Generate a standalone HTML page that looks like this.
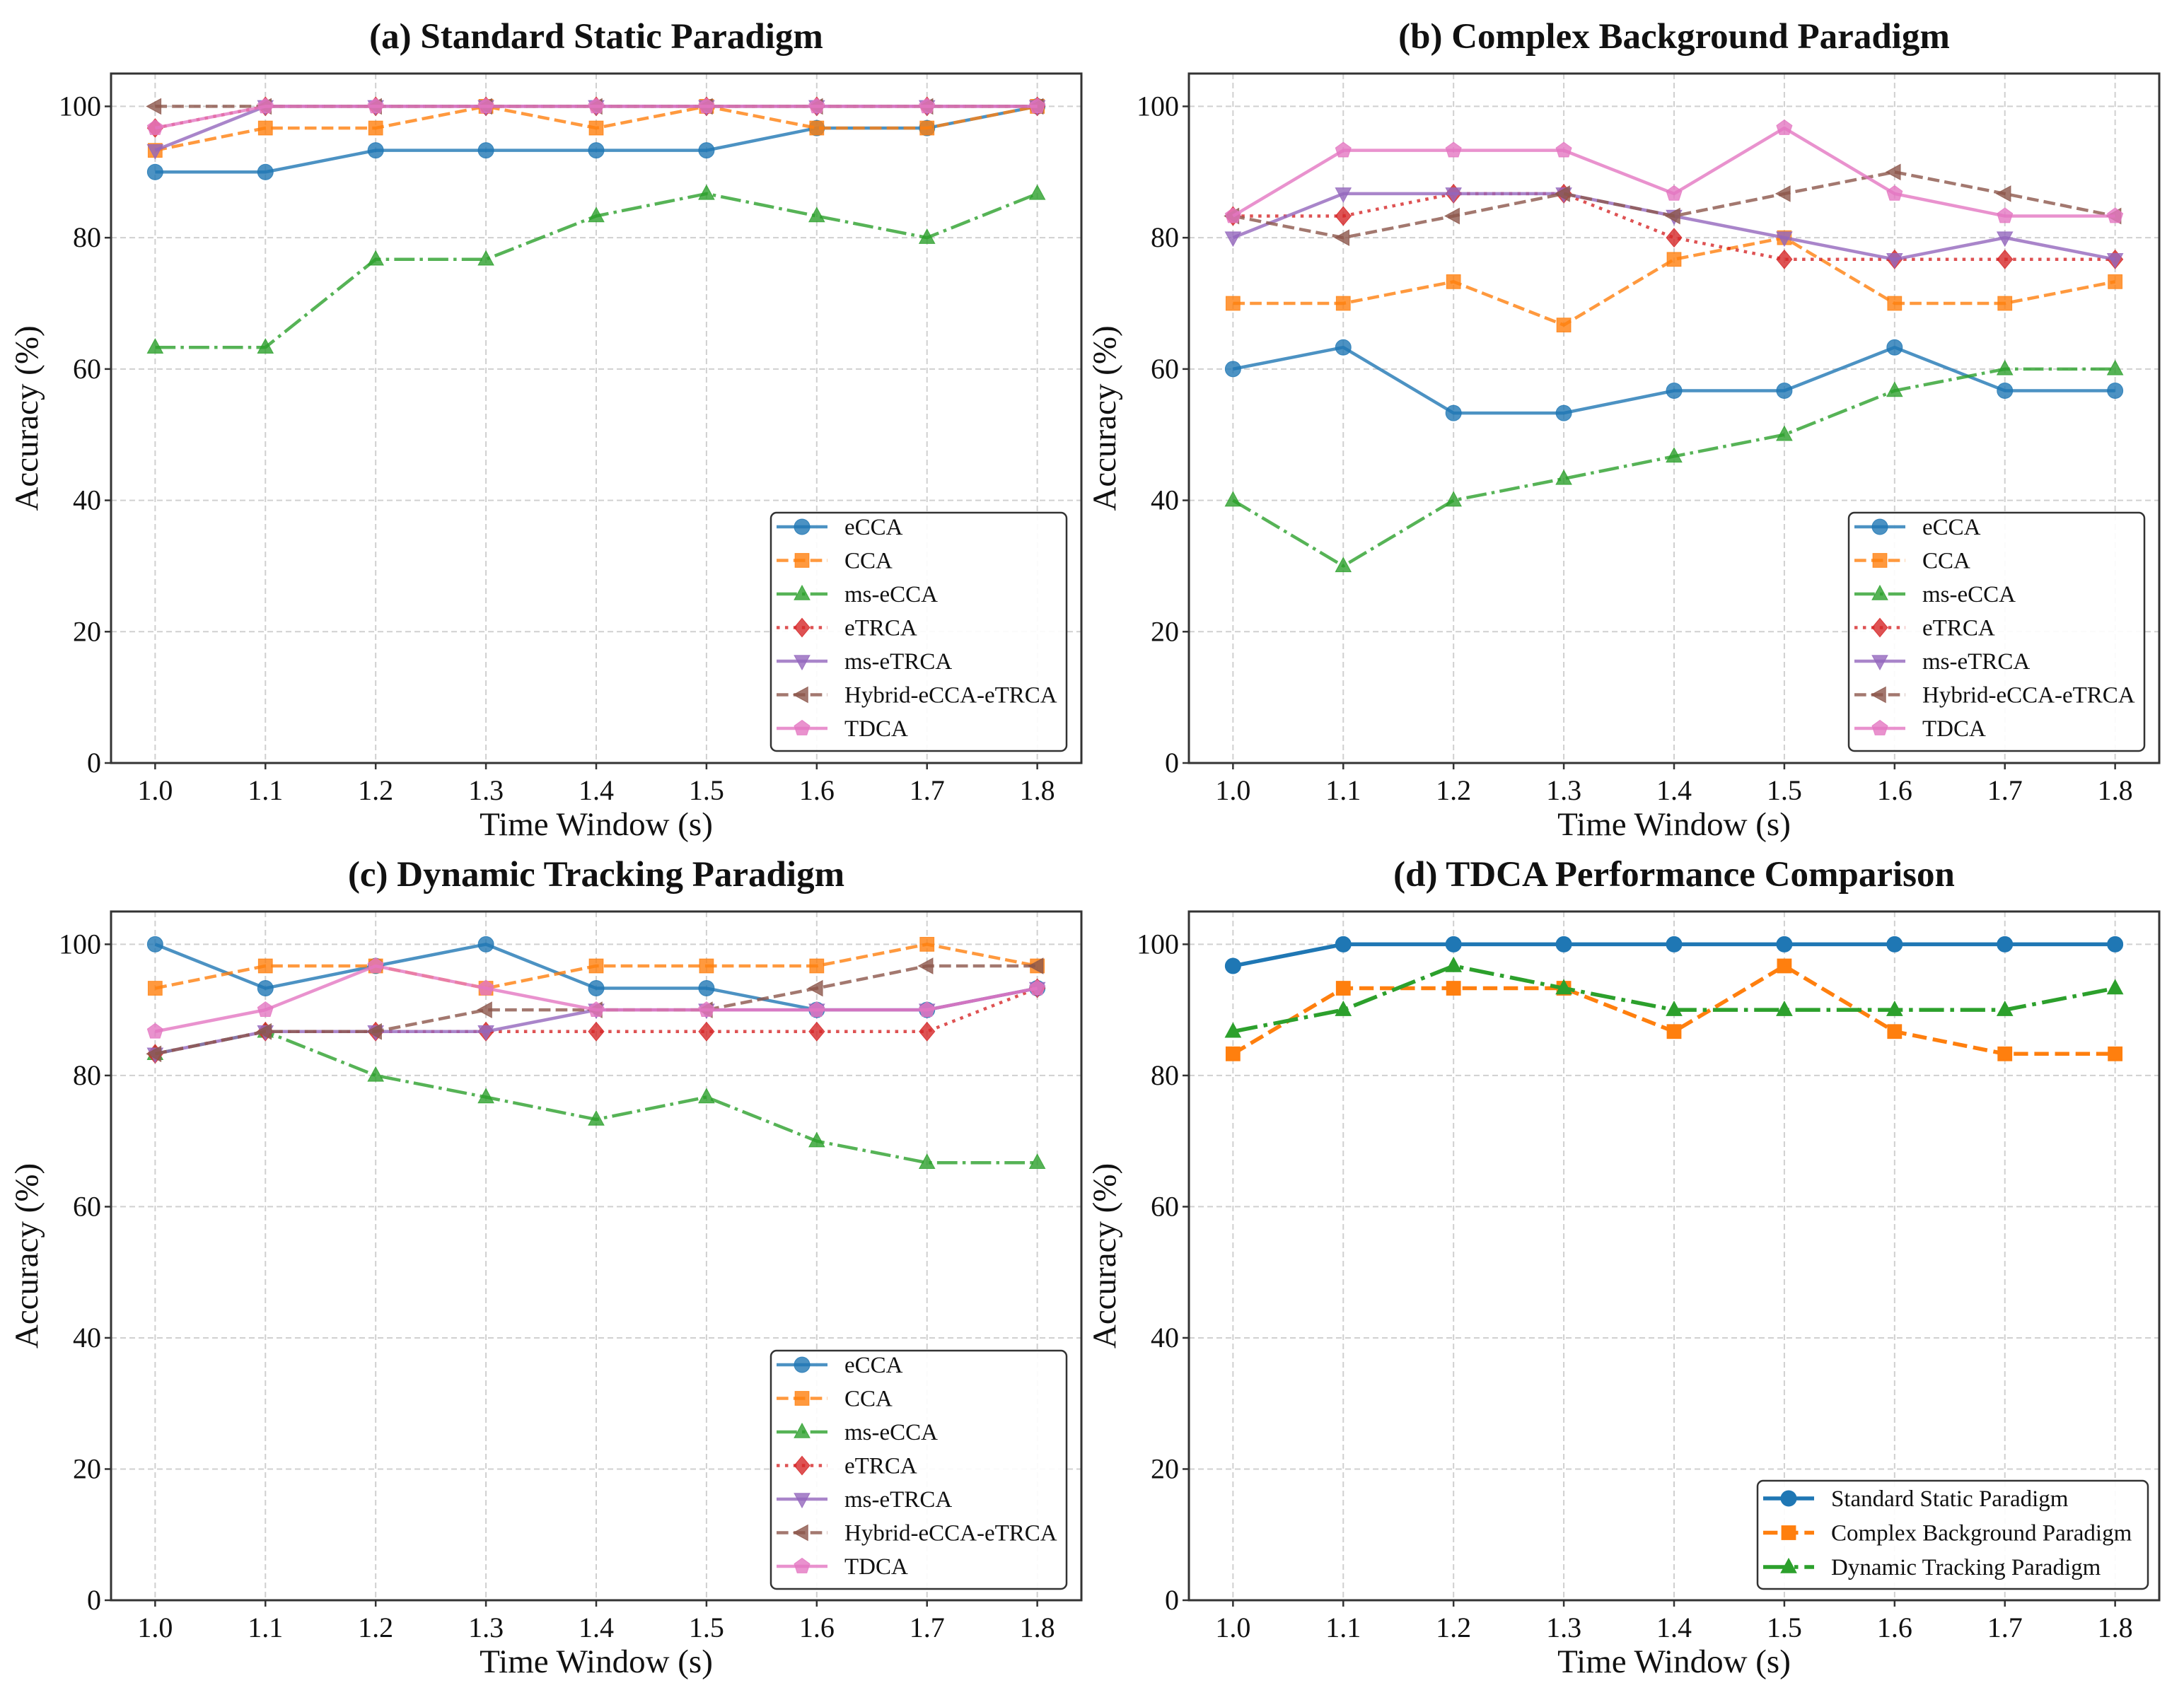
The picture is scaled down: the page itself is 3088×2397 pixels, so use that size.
<!DOCTYPE html>
<html><head><meta charset="utf-8">
<style>
html,body{margin:0;padding:0;background:#fff;}
svg{display:block;font-family:"Liberation Serif",serif;}
</style></head>
<body>
<svg id="fig" width="3088" height="2397" viewBox="0 0 3088 2397" xmlns="http://www.w3.org/2000/svg"></svg>
<script>
const xTicks = [1.0,1.1,1.2,1.3,1.4,1.5,1.6,1.7,1.8];
const yTicks = [0,20,40,60,80,100];
const methodNames = ["eCCA","CCA","ms-eCCA","eTRCA","ms-eTRCA","Hybrid-eCCA-eTRCA","TDCA"];
const paradigmNames = ["Standard Static Paradigm","Complex Background Paradigm","Dynamic Tracking Paradigm"];

const staticECCA = [90,90,93.3,93.3,93.3,93.3,96.7,96.7,100];
const staticCCA = [93.3,96.7,96.7,100,96.7,100,96.7,96.7,100];
const staticMsECCA = [63.3,63.3,76.7,76.7,83.3,86.7,83.3,80,86.7];
const staticETRCA = [96.7,100,100,100,100,100,100,100,100];
const staticMsETRCA = [93.3,100,100,100,100,100,100,100,100];
const staticHybrid = [100,100,100,100,100,100,100,100,100];
const staticTDCA = [96.7,100,100,100,100,100,100,100,100];

const complexECCA = [60,63.3,53.3,53.3,56.7,56.7,63.3,56.7,56.7];
const complexCCA = [70,70,73.3,66.7,76.7,80,70,70,73.3];
const complexMsECCA = [40,30,40,43.3,46.7,50,56.7,60,60];
const complexETRCA = [83.3,83.3,86.7,86.7,80,76.7,76.7,76.7,76.7];
const complexMsETRCA = [80,86.7,86.7,86.7,83.3,80,76.7,80,76.7];
const complexHybrid = [83.3,80,83.3,86.7,83.3,86.7,90,86.7,83.3];
const complexTDCA = [83.3,93.3,93.3,93.3,86.7,96.7,86.7,83.3,83.3];

const dynamicECCA = [100,93.3,96.7,100,93.3,93.3,90,90,93.3];
const dynamicCCA = [93.3,96.7,96.7,93.3,96.7,96.7,96.7,100,96.7];
const dynamicMsECCA = [83.3,86.7,80,76.7,73.3,76.7,70,66.7,66.7];
const dynamicETRCA = [83.3,86.7,86.7,86.7,86.7,86.7,86.7,86.7,93.3];
const dynamicMsETRCA = [83.3,86.7,86.7,86.7,90,90,90,90,93.3];
const dynamicHybrid = [83.3,86.7,86.7,90,90,90,93.3,96.7,96.7];
const dynamicTDCA = [86.7,90,96.7,93.3,90,90,90,90,93.3];

const NS="http://www.w3.org/2000/svg";
const svg=document.getElementById('fig');
function mk(tag,attrs,parent){const e=document.createElementNS(NS,tag);for(const k in attrs)e.setAttribute(k,attrs[k]);(parent||svg).appendChild(e);return e;}

const colors=["#1f77b4","#ff7f0e","#2ca02c","#d62728","#9467bd","#8c564b","#e377c2"];
const styles=["solid","dashed","dashdot","dotted","solid","dashed","solid"];
const markers=["o","s","^","D","v","<","p"];

function dash(style,lw){
  if(style==="dashed")return [3.7*lw,1.6*lw].join(",");
  if(style==="dashdot")return [6.4*lw,1.6*lw,1*lw,1.6*lw].join(",");
  if(style==="dotted")return [1*lw,1.65*lw].join(",");
  return "none";
}
function marker(g,type,x,y,r,color,op){
  let e;
  const a={fill:color,"fill-opacity":op,stroke:color,"stroke-opacity":op,"stroke-width":1};
  if(type==="o"){e=mk('circle',Object.assign({cx:x,cy:y,r:r},a),g);}
  else if(type==="s"){e=mk('rect',Object.assign({x:x-r*0.9,y:y-r*0.9,width:r*1.8,height:r*1.8},a),g);}
  else{
    let pts;
    if(type==="^")pts=[[0,-1.1],[1,0.75],[-1,0.75]];
    else if(type==="v")pts=[[0,1.1],[1,-0.75],[-1,-0.75]];
    else if(type==="<")pts=[[-1.1,0],[0.75,-1],[0.75,1]];
    else if(type==="D")pts=[[0,-1.2],[1,0],[0,1.2],[-1,0]];
    else {pts=[];for(let i=0;i<5;i++){const t=-Math.PI/2+i*2*Math.PI/5;pts.push([Math.cos(t)*1.05,Math.sin(t)*1.05]);}}
    e=mk('polygon',Object.assign({points:pts.map(p=>(x+p[0]*r)+","+(y+p[1]*r)).join(" ")},a),g);
  }
  return e;
}

function panel(id,title,L,T,R,B,series,names,legend,lw,op,mr){
  const g=mk('g',{});
  
  
  const xs=v=>L+(v-0.96)/(1.84-0.96)*(R-L);
  const ys=v=>B-(v-0)/(105-0)*(B-T);
  xTicks.forEach(t=>{const l=mk('line',{x1:xs(t),x2:xs(t),y1:T,y2:B,stroke:"#d0d0d0","stroke-width":2,"stroke-dasharray":"8,5"},g);
    });
  yTicks.forEach(t=>{const l=mk('line',{x1:L,x2:R,y1:ys(t),y2:ys(t),stroke:"#d0d0d0","stroke-width":2,"stroke-dasharray":"8,5"},g);
    });
  series.forEach((vals,i)=>{
    const sg=mk('g',{},g);
    
    
    const pts=vals.map((v,j)=>xs(xTicks[j])+","+ys(v)).join(" ");
    mk('polyline',{points:pts,fill:"none",stroke:colors[i],"stroke-opacity":op,"stroke-width":lw,"stroke-dasharray":dash(styles[i],lw),"stroke-linejoin":"round"},sg);
    vals.forEach((v,j)=>{const m=marker(sg,markers[i],xs(xTicks[j]),ys(v),mr,colors[i],op);
      });
  });
  const f=mk('rect',{x:L,y:T,width:R-L,height:B-T,fill:"none",stroke:"#333","stroke-width":3},g);
  
  xTicks.forEach(t=>{mk('line',{x1:xs(t),x2:xs(t),y1:B,y2:B+9,stroke:"#333","stroke-width":2.5},g);
    const tx=mk('text',{x:xs(t),y:B+52,"font-size":40,"text-anchor":"middle",fill:"#111"},g);tx.textContent=t.toFixed(1);
    });
  yTicks.forEach(t=>{mk('line',{x1:L-9,x2:L,y1:ys(t),y2:ys(t),stroke:"#333","stroke-width":2.5},g);
    const tx=mk('text',{x:L-14,y:ys(t)+13,"font-size":40,"text-anchor":"end",fill:"#111"},g);tx.textContent=t;
    });
  const tt=mk('text',{x:(L+R)/2,y:T-36,"font-size":51,"font-weight":"bold","text-anchor":"middle",fill:"#111"},g);tt.textContent=title;
  
  const xl=mk('text',{x:(L+R)/2,y:B+102,"font-size":47,"text-anchor":"middle",fill:"#111"},g);xl.textContent="Time Window (s)";
  
  const yl=mk('text',{x:0,y:0,"font-size":47,"text-anchor":"middle",fill:"#111",transform:`translate(${L-104},${(T+B)/2}) rotate(-90)`},g);yl.textContent="Accuracy (%)";
  
  const lg=mk('g',{},g);
  
  mk('rect',{x:legend.l,y:legend.t,width:legend.w,height:legend.h,rx:8,fill:"#fff","fill-opacity":0.9,stroke:"#333","stroke-width":2.5},lg);
  names.forEach((n,i)=>{
    const ey=legend.r0+i*legend.dy;
    const eg=mk('g',{},lg);
    
    mk('line',{x1:legend.l+8,x2:legend.l+80,y1:ey,y2:ey,stroke:colors[i],"stroke-opacity":op,"stroke-width":lw,"stroke-dasharray":dash(styles[i],lw)},eg);
    marker(eg,markers[i],legend.l+44,ey,mr,colors[i],op);
    const tx=mk('text',{x:legend.l+104,y:ey+11,"font-size":33,fill:"#111"},eg);tx.textContent=n;
  });
}

const lgA={l:1090,t:725,w:418,h:337,r0:745,dy:47.5};
panel('panel-a-standard-static',"(a) Standard Static Paradigm",157,104,1529,1079,
  [staticECCA,staticCCA,staticMsECCA,staticETRCA,staticMsETRCA,staticHybrid,staticTDCA],methodNames,lgA,4.5,0.8,11);
panel('panel-b-complex-background',"(b) Complex Background Paradigm",1681,104,3053,1079,
  [complexECCA,complexCCA,complexMsECCA,complexETRCA,complexMsETRCA,complexHybrid,complexTDCA],methodNames,
  {l:2614,t:725,w:418,h:337,r0:745,dy:47.5},4.5,0.8,11);
panel('panel-c-dynamic-tracking',"(c) Dynamic Tracking Paradigm",157,1289,1529,2263,
  [dynamicECCA,dynamicCCA,dynamicMsECCA,dynamicETRCA,dynamicMsETRCA,dynamicHybrid,dynamicTDCA],methodNames,
  {l:1090,t:1910,w:418,h:337,r0:1930,dy:47.5},4.5,0.8,11);
panel('panel-d-tdca-comparison',"(d) TDCA Performance Comparison",1681,1289,3053,2263,
  [staticTDCA,complexTDCA,dynamicTDCA],paradigmNames,
  {l:2485,t:2094,w:552,h:153,r0:2119,dy:48.5},5.5,1,11);
</script>
</body></html>
